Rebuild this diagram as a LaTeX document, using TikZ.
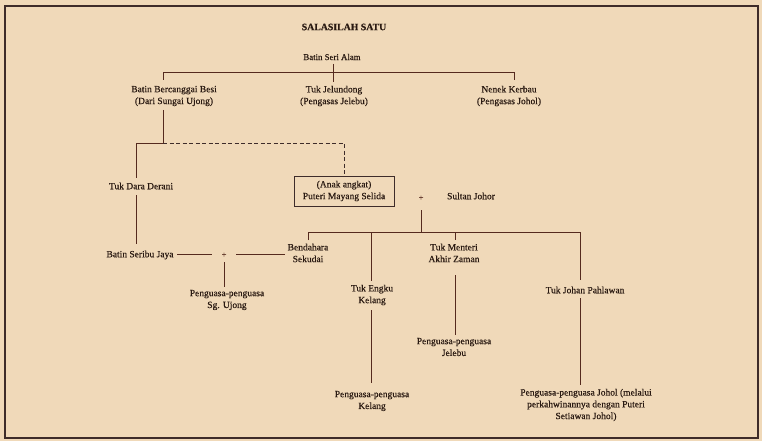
\documentclass[tikz,border=0pt]{standalone}
\usepackage{fontspec}
\setmainfont{Liberation Serif}[FakeBold=0.4]
\definecolor{bg}{HTML}{F0D9B9}
\definecolor{ln}{HTML}{552A1E}
\definecolor{tx}{HTML}{2A1A12}
\definecolor{fr}{HTML}{3E2C2A}
\begin{document}
\begin{tikzpicture}[x=1pt,y=-1pt,
  lbl/.style={inner sep=0pt,align=center,text=tx,font=\fontsize{9.5}{11.8}\selectfont},
  plussign/.style={inner sep=0pt,text=ln,font=\fontsize{8.5}{9}\selectfont},
  ttl/.style={inner sep=0pt,text=tx,font=\fontsize{9.8}{10}\selectfont\bfseries},
  conn/.style={draw=ln,line width=0.9pt},
  dconn/.style={draw=fr,line width=1pt,dashed,dash pattern=on 4pt off 2.5pt},
  famebox/.style={draw=fr,line width=0.9pt,inner sep=0pt,minimum width=100pt,minimum height=30pt}]
\fill[bg] (0,0) rectangle (762,441);
\useasboundingbox (0,0) rectangle (762,441);
\draw[fr,line width=1.2pt] (5,6) rectangle (758,438);

\node[ttl] (title) at (344,27) {SALASILAH SATU};
\node[lbl,font=\fontsize{8.8}{11}\selectfont] (bsa) at (332,57) {Batin Seri Alam};
\node[lbl] (bbb) at (174,96) {Batin Bercanggai Besi\\(Dari Sungai Ujong)};
\node[lbl] (tj) at (334,96) {Tuk Jelundong\\(Pengasas Jelebu)};
\node[lbl] (nk) at (509,96) {Nenek Kerbau\\(Pengasas Johol)};
\node[lbl] (tdd) at (141,186) {Tuk Dara Derani};
\node[famebox] (pms) at (344,191) {};
\node[lbl] at (pms) {(Anak angkat)\\Puteri Mayang Selida};
\node[plussign] (plus1) at (421,198) {+};
\node[lbl] (sj) at (471,196) {Sultan Johor};
\node[lbl] (bsj) at (140,255) {Batin Seribu Jaya};
\node[plussign] (plus2) at (224,255) {+};
\node[lbl] (bs) at (308,253) {Bendahara\\Sekudai};
\node[lbl] (tmaz) at (454,253) {Tuk Menteri\\Akhir Zaman};
\node[lbl] (pps) at (227,300) {Penguasa-penguasa\\Sg. Ujong};
\node[lbl] (tek) at (372,295) {Tuk Engku\\Kelang};
\node[lbl] (tjp) at (585,290) {Tuk Johan Pahlawan};
\node[lbl] (ppj) at (454,347) {Penguasa-penguasa\\Jelebu};
\node[lbl] (ppk) at (372,401) {Penguasa-penguasa\\Kelang};
\node[lbl] (ppjh) at (586,405) {Penguasa-penguasa Johol (melalui\\perkahwinannya dengan Puteri\\Setiawan Johol)};

% coordinates
\coordinate (a1) at (333,64);
\coordinate (a2) at (333,82);
\coordinate (j1) at (163,72);
\coordinate (j2) at (514,72);
\coordinate (b1) at (163,80);
\coordinate (b2) at (514,80);
\coordinate (c1) at (163,110);
\coordinate (c2) at (163,143);
\coordinate (c3) at (136,178);
\coordinate (d1) at (136,195);
\coordinate (d2) at (136,244);
\coordinate (e1) at (177,254);
\coordinate (e2) at (212,254);
\coordinate (e3) at (236,254);
\coordinate (e4) at (285,254);
\coordinate (f1) at (224,262);
\coordinate (f2) at (224,287);
\coordinate (g1) at (421,210);
\coordinate (g2) at (421,232);
\coordinate (hL) at (308,232);
\coordinate (hR) at (580,232);
\coordinate (i1) at (308,240);
\coordinate (i2) at (455,240);
\coordinate (i3) at (371,281);
\coordinate (i4) at (580,280);
\coordinate (k1) at (371,310);
\coordinate (k2) at (371,383);
\coordinate (m1) at (455,275);
\coordinate (m2) at (455,335);
\coordinate (n1) at (580,298);
\coordinate (n2) at (580,385);

\draw[conn] (a1) -- (a2);
\draw[conn] (b1) -- (j1) -- (j2) -- (b2);
\draw[conn] (c1) -- (c2) -| (c3);
\draw[dconn] (c2) -| (pms.north);
\draw[conn] (d1) -- (d2);
\draw[conn] (e1) -- (e2);
\draw[conn] (e3) -- (e4);
\draw[conn] (f1) -- (f2);
\draw[conn] (g1) -- (g2);
\draw[conn] (i1) -- (hL) -- (hR) -- (i4);
\draw[conn] (hL -| i2) -- (i2);
\draw[conn] (hL -| i3) -- (i3);
\draw[conn] (k1) -- (k2);
\draw[conn] (m1) -- (m2);
\draw[conn] (n1) -- (n2);
\end{tikzpicture}
\end{document}
